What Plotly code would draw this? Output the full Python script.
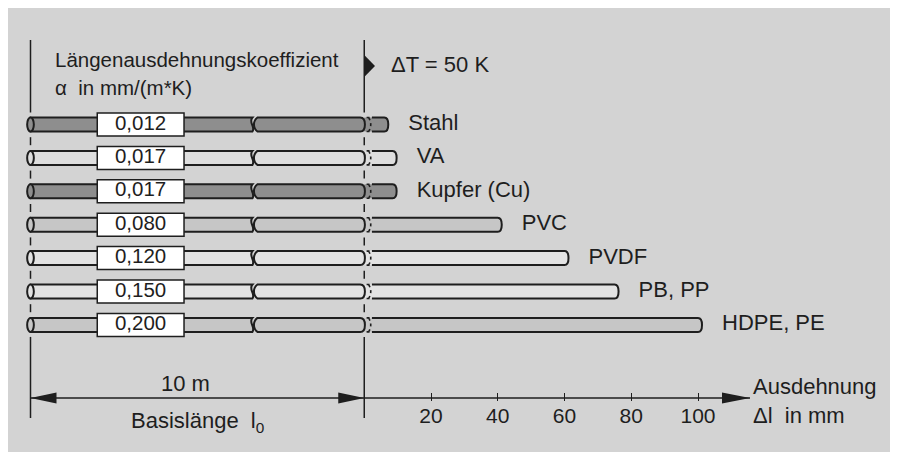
import plotly.graph_objects as go

# ---- data ----
materials = ["Stahl", "VA", "Kupfer (Cu)", "PVC", "PVDF", "PB, PP", "HDPE, PE"]
alpha_labels = ["0,012", "0,017", "0,017", "0,080", "0,120", "0,150", "0,200"]
expansion_mm = [6, 8.5, 8.5, 40, 60, 75, 100]   # delta l for 10 m at dT = 50 K
pipe_colors = ["#8e8e8e", "#dedede", "#8e8e8e", "#c6c6c6", "#e3e3e3", "#e3e3e3", "#c6c6c6"]
axis_ticks = [20, 40, 60, 80, 100]

# ---- geometry of the picture (page px, figure sits 8 px in) ----
W, H = 898, 452
OFF = 8
X_PX, X0_PX = 3.3375, 364.25   # px per mm, px of 0 mm
Y_PX, Y0_PX = 33.4, 124.5      # px per row, px of first row


def xu(px):
    return (px - X0_PX) / X_PX


def yu(px):
    return (px - Y0_PX) / Y_PX


BASE_START = -100          # 10 m base length drawn left of 0
BOX = (-80, -54)
BREAK_L, BREAK_R = -33.5, -32
SEG_START = 2.3
HH = 7 / Y_PX
BOX_HH = 11.5 / Y_PX
CAP = 4 / X_PX
LINE = "#1e1e1e"
FONT = "Liberation Sans, Arial, sans-serif"
rows = list(range(len(materials)))

shapes = [dict(type="rect", xref="paper", yref="paper", x0=0, x1=(890 - OFF) / W, y0=0, y1=1,
               fillcolor="#d3d3d3", line=dict(width=0), layer="below")]


def seg(x0, y0, x1, y1, width=1.5, dash="solid"):
    return dict(type="line", x0=x0, y0=y0, x1=x1, y1=y1, layer="below",
                line=dict(color=LINE, width=width, dash=dash))


def path(d, fill=LINE, width=0, dash="solid"):
    return dict(type="path", path=d, fillcolor=fill, layer="below",
                line=dict(color=LINE, width=width, dash=dash))


# vertical reference lines (10 m start / end)
last = rows[-1]
for xv in (BASE_START, 0):
    shapes.append(seg(xv, yu(40), xv, -HH - 0.15))
    for i in rows[:-1]:
        shapes.append(seg(xv, i + 0.5 - 0.12, xv, i + 0.5 + 0.12))
    shapes.append(seg(xv, last + HH + 0.15, xv, yu(418)))

# pipes
for i, (d, col) in enumerate(zip(expansion_mm, pipe_colors)):
    y = i
    t, b = y - HH, y + HH
    e = d + CAP
    shapes.append(path(f"M 0,{t} L {d},{t} Q {e},{t} {e},{y} Q {e},{b} {d},{b} L 0,{b} Z", fill=col))
    shapes.append(path(
        f"M {BASE_START},{t} L {BREAK_L},{t} C {BREAK_L - 1.3},{y - HH / 3} {BREAK_L + 1.0},{y + HH / 3} "
        f"{BREAK_L},{b} L {BASE_START},{b} Z", fill=col, width=2))
    shapes.append(dict(type="circle", x0=BASE_START - 1.0, x1=BASE_START + 1.0, y0=t, y1=b,
                       fillcolor=col, layer="below", line=dict(color=LINE, width=2)))
    shapes.append(path(
        f"M {BREAK_R},{t} L {-CAP},{t} Q 0.2,{t} 0.2,{y} Q 0.2,{b} {-CAP},{b} L {BREAK_R},{b} "
        f"C {BREAK_R - 1.4},{y + HH * 0.5} {BREAK_R - 1.4},{y - HH * 0.5} {BREAK_R},{t} Z", fill=col, width=2))
    shapes.append(path(f"M {SEG_START},{t} L {d},{t} Q {e},{t} {e},{y} Q {e},{b} {d},{b} L {SEG_START},{b}",
                       fill="rgba(0,0,0,0)", width=2))
    shapes.append(path(f"M 0.7,{t} L {SEG_START},{t} M 0.7,{b} L {SEG_START},{b} "
                       f"M {SEG_START - 1},{t} Q {SEG_START + 0.3},{y} {SEG_START - 1},{b}",
                       fill="rgba(0,0,0,0)", width=1.6, dash="dot"))
    shapes.append(dict(type="rect", x0=BOX[0], x1=BOX[1], y0=y - BOX_HH, y1=y + BOX_HH,
                       fillcolor="white", layer="below", line=dict(color=LINE, width=1.5)))

# dimension line / axis line with arrowheads
yd = yu(398)
ah = 5.5 / Y_PX
x_end = xu(750)
shapes.append(seg(BASE_START, yd, x_end, yd, width=1.5))
for tip, base in ((BASE_START, BASE_START + 26 / X_PX), (0, -26 / X_PX), (x_end, x_end - 28 / X_PX)):
    shapes.append(path(f"M {tip},{yd} L {base},{yd - ah} L {base},{yd + ah} Z"))

# dT marker
shapes.append(path(f"M 0,{yu(55)} L {xu(375)},{yu(66)} L 0,{yu(77)} Z"))

fig = go.Figure()
fig.add_trace(go.Scatter(
    x=[d + 7.2 for d in expansion_mm], y=rows, text=materials, mode="text",
    textposition="middle right", textfont=dict(family=FONT, size=22, color=LINE),
    hoverinfo="skip", showlegend=False))
fig.add_trace(go.Scatter(
    x=[(BOX[0] + BOX[1]) / 2] * len(rows), y=rows, text=alpha_labels, mode="text",
    textposition="middle center", textfont=dict(family=FONT, size=20.5, color=LINE),
    hoverinfo="skip", showlegend=False))

annotations = [
    ("Längenausdehnungskoeffizient", xu(53), yu(59), "left", 20.5),
    ("α  in mm/(m*K)", xu(53), yu(87), "left", 20.5),
    ("ΔT = 50 K", xu(389), yu(64), "left", 22),
    ("10 m", xu(185), yu(383), "center", 22),
    ("Basislänge  l<sub>0</sub>", xu(197), yu(422), "center", 22),
    ("Ausdehnung", xu(751), yu(386), "left", 22),
    ("Δl  in mm", xu(751), yu(415), "left", 22),
]
fig.update_layout(
    width=W, height=H, autosize=False,
    margin=dict(l=0, r=0, t=0, b=0),
    paper_bgcolor="white", plot_bgcolor="rgba(0,0,0,0)",
    shapes=shapes,
    annotations=[dict(text=t, x=x, y=y, xref="x", yref="y", xanchor=a, yanchor="middle",
                      showarrow=False, font=dict(family=FONT, size=s, color=LINE))
                 for t, x, y, a, s in annotations],
    xaxis=dict(range=[xu(OFF), xu(OFF + W)], tickvals=axis_ticks, ticks="inside", ticklen=8,
               tickwidth=1.3, tickcolor=LINE, showline=False, showgrid=False, zeroline=False,
               anchor="free", position=1 - (401 - OFF) / H,
               tickfont=dict(family=FONT, size=21, color=LINE)),
    yaxis=dict(range=[yu(OFF + H), yu(OFF)], visible=False),
)

fig.write_html("out.html")
